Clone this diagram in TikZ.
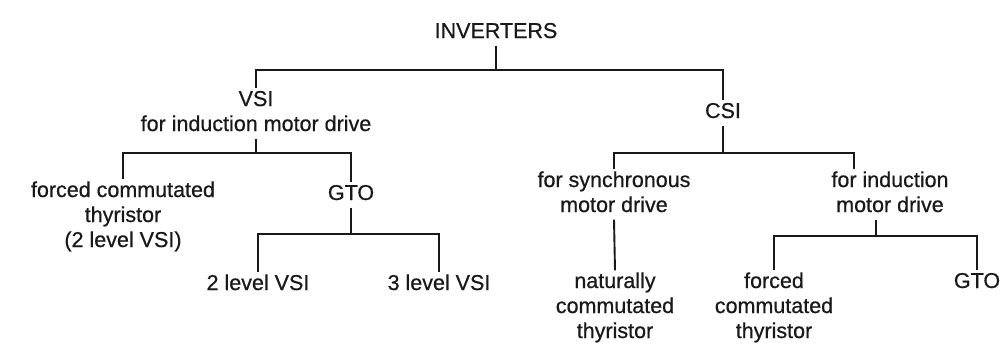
\documentclass[tikz,border=0pt]{standalone}
\usepackage{fontspec}
\setmainfont{Liberation Sans}
\newfontfamily\diagfont[FakeBold=0.6]{Liberation Sans}
\usetikzlibrary{calc}
\newcommand{\mlab}[1]{\begin{tabular}[t]{@{}c@{}}#1\end{tabular}}
\begin{document}
\begin{tikzpicture}[x=1pt,y=-1pt,
  lbl/.style={anchor=base,inner sep=0pt,font=\diagfont\fontsize{21.5}{25}\selectfont,text=black!90},
  conn/.style={draw=black!90,line width=1.9pt}]
\useasboundingbox (0,0) rectangle (1000,345);
\fill[white] (0,0) rectangle (1000,345);
% bus levels
\coordinate (b1) at (0,70);
\coordinate (b2) at (0,153);
\coordinate (b3) at (0,234);
\coordinate (b4) at (0,236);
% nodes
\node[lbl] (inv)  at (496,38)  {\mlab{INVERTERS}};
\node[lbl] (vsi)  at (256,106) {\mlab{VSI\\for induction motor drive}};
\node[lbl] (csi)  at (723,118) {\mlab{CSI}};
\node[lbl] (fct)  at (123,197) {\mlab{forced commutated\\thyristor\\(2 level VSI)}};
\node[lbl] (gto)  at (351,200) {\mlab{GTO}};
\node[lbl] (lv2)  at (258,290) {\mlab{2 level VSI}};
\node[lbl] (lv3)  at (439,290) {\mlab{3 level VSI}};
\node[lbl] (syn)  at (614,187) {\mlab{for synchronous\\motor drive}};
\node[lbl] (ind)  at (890,187) {\mlab{for induction\\motor drive}};
\node[lbl] (nct)  at (615,288) {\mlab{naturally\\commutated\\thyristor}};
\node[lbl] (fct2) at (774,288) {\mlab{forced\\commutated\\thyristor}};
\node[lbl] (gto2) at (977,288) {\mlab{GTO}};
% connectors
\draw[conn] (inv.south) -- (inv.south |- b1) -| (vsi.north);
\draw[conn] (inv.south |- b1) -| (csi.north);
\draw[conn] (vsi.south) -- (vsi.south |- b2) -| (fct.north);
\draw[conn] (vsi.south |- b2) -| (gto.north);
\draw[conn] (gto.south) -- (gto.south |- b3) -| (lv2.north);
\draw[conn] (gto.south |- b3) -| (lv3.north);
\draw[conn] (csi.south) -- (csi.south |- b2) -| (syn.north);
\draw[conn] (csi.south |- b2) -| ($(ind.north)+(-36,0)$);
\draw[conn] (syn.south) -- (nct.north);
\draw[conn] ($(ind.south)+(-14,0)$) -- ($(ind.south |- b4)+(-14,0)$) -| (fct2.north);
\draw[conn] ($(ind.south |- b4)+(-14,0)$) -| (gto2.north);
\end{tikzpicture}
\end{document}
